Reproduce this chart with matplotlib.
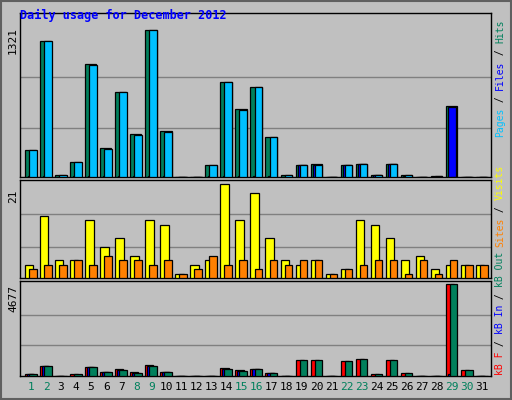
import matplotlib
matplotlib.use("Agg")
import matplotlib.pyplot as plt
import numpy as np

days = list(range(1, 32))
hits  = [240,1216,15,132,1015,258,757,384,1321,411,0,0,105,853,609,808,357,15,105,114,0,105,114,15,114,15,0,5,636,0,0]
files = [240,1216,15,132,1006,249,757,375,1321,402,0,0,105,853,600,808,357,15,105,105,0,105,114,15,114,15,0,5,0,0,0]
pages = [5,5,3,5,5,5,5,5,5,5,0,0,5,5,5,5,5,3,105,105,0,105,114,15,114,5,0,3,627,0,0]
visits = [3,14,4,4,13,7,9,5,13,12,1,3,4,21,13,19,9,4,3,4,1,2,13,12,9,4,5,2,3,3,3]
sites  = [2,3,3,4,3,5,4,4,3,4,1,2,5,3,4,2,4,3,4,4,1,2,3,4,4,1,4,1,4,3,3]
kbf   = [120,531,0,86,462,205,360,205,565,205,0,0,0,411,308,377,171,0,839,839,0,788,890,103,839,171,0,0,4677,325,0]
kbin  = [100,497,0,0,462,205,308,171,531,205,0,0,0,377,274,377,171,0,0,0,0,0,0,0,0,0,0,0,100,0,0]
kbout = [100,497,0,86,462,205,308,171,531,205,0,0,0,377,274,377,171,0,839,839,0,788,890,103,839,171,0,0,4677,325,0]
weekend = {1,2,8,9,15,16,22,23,29,30}

BG = "#c0c0c0"
fig = plt.figure(figsize=(5.12, 4.0), dpi=100, facecolor=BG)
mono = "DejaVu Sans Mono"
x = np.array(days, dtype=float)
xl = (0.67, 32.0)

def mkax(top, bot):
    ax = fig.add_axes([20/512, 1-bot/400, 471/512, (bot-top)/400])
    ax.set_facecolor(BG)
    ax.set_xlim(*xl)
    ax.set_xticks([]); ax.set_yticks([])
    for s in ax.spines.values():
        s.set_color("black"); s.set_linewidth(1)
    return ax

def bars(ax, vals, off, w, color):
    v = np.array(vals, float)
    ax.bar(x + off, v, width=w, align="edge", color=color, edgecolor="black", linewidth=0.9, zorder=3)

ax1 = mkax(13, 177)
ax1.set_ylim(0, 1469)
for g in (440, 899):
    ax1.axhline(g, color="#808080", lw=1, zorder=1)
bars(ax1, hits, 0, 0.75, "#00805c")
bars(ax1, pages, 0.17, 0.5, "#0000ff")
bars(ax1, files, 0.27, 0.5, "#00c0ff")

ax2 = mkax(180, 278)
ax2.set_ylim(0, 22)
for g in (7, 14.4):
    ax2.axhline(g, color="#808080", lw=1, zorder=1)
bars(ax2, visits, 0, 0.56, "#ffff00")
bars(ax2, sites, 0.27, 0.5, "#ff8000")

ax3 = mkax(281, 376)
ax3.set_ylim(0, 4847)
for g in (1559, 3118):
    ax3.axhline(g, color="#808080", lw=1, zorder=1)
bars(ax3, kbf, 0, 0.55, "#ff0000")
bars(ax3, kbin, 0.13, 0.5, "#0000ff")
bars(ax3, kbout, 0.27, 0.5, "#00805c")

for d in days:
    ax3.text(d + 0.4, -0.12, str(d), transform=ax3.get_xaxis_transform(), ha="center", va="center",
             fontsize=8, family=mono, color="#00805c" if d in weekend else "black")

fig.text(20/512, 1-15/400, "Daily usage for December 2012", fontsize=8.5, family=mono,
         fontweight="bold", color="#0000ff", va="center")

fig.text(13/512, 1-40/400, "1321", rotation=90, fontsize=8, family=mono, ha="center", va="center")
fig.text(13/512, 1-196/400, "21", rotation=90, fontsize=8, family=mono, ha="center", va="center")
fig.text(13/512, 1-299/400, "4677", rotation=90, fontsize=8, family=mono, ha="center", va="center")

ADV = 5.85
def rlabel(segments, ybottom):
    y = ybottom
    for txt, col in segments:
        fig.text(500/512, 1-y/400, txt, rotation=90, fontsize=7, family=mono, color=col,
                 ha="center", va="bottom")
        y -= len(txt) * ADV

rlabel([("Pages", "#00c0ff"), (" / ", "black"), ("Files", "#0000ff"), (" / ", "black"), ("Hits", "#00805c")], 137)
rlabel([("Sites", "#ff8000"), (" / ", "black"), ("Visits", "#ffff00")], 247)
rlabel([("kB F", "#ff0000"), (" / ", "black"), ("kB In", "#0000ff"), (" / ", "black"), ("kB Out", "#00805c")], 375)

fig.patches.append(plt.Rectangle((0.002, 0.002), 0.996, 0.996, transform=fig.transFigure,
                                 fill=False, edgecolor="#606060", lw=1.5))
fig.savefig("out.png", dpi=100, facecolor=BG)
